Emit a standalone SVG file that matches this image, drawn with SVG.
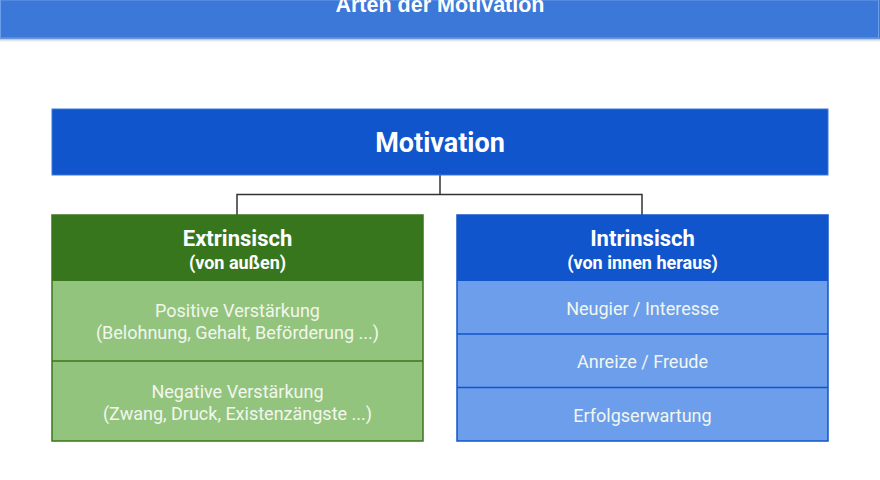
<svg xmlns="http://www.w3.org/2000/svg" width="880" height="480" viewBox="0 0 880 480">
<defs>
<linearGradient id="sh" x1="0" y1="0" x2="0" y2="1">
<stop offset="0" stop-color="#7a8ea8" stop-opacity="0.9"/>
<stop offset="1" stop-color="#ffffff" stop-opacity="0"/>
</linearGradient>
</defs>
<style>
.t{font-family:Roboto,"Liberation Sans",sans-serif;text-anchor:middle;fill:#ffffff}
.b{font-weight:bold}
.item{font-size:18px;fill:#f2f6ee}
.conn{fill:none;stroke:#333333;stroke-width:1.5}
</style>
<rect width="880" height="480" fill="#ffffff"/>
<g id="header">
<rect x="0" y="38" width="880" height="5" fill="url(#sh)"/>
<rect x="0" y="0" width="880" height="38.5" fill="#3c78d8"/>
<rect x="0.5" y="0" width="878" height="38" fill="none" stroke="#6d9eeb" stroke-width="1"/>
<text x="440" y="12" font-family="'Liberation Sans',Arial,sans-serif" font-size="21.5" font-weight="bold" text-anchor="middle" fill="#ffffff">Arten der Motivation</text>
</g>
<g id="connectors">
<path class="conn" d="M440 175 V194.5 M237 215 V194.5 H642 V215"/>
</g>
<g id="motivation">
<rect x="52" y="109" width="776" height="66" fill="#1155cc" stroke="#3c78d8" stroke-width="1"/>
<text class="t b" x="440" y="151.5" font-size="27">Motivation</text>
</g>
<g id="extrinsisch">
<rect x="52" y="215" width="371" height="226" fill="#93c47d" stroke="#38761d" stroke-width="1.5"/>
<rect x="52" y="215" width="371" height="66" fill="#38761d"/>
<line x1="52" y1="361" x2="423" y2="361" stroke="#38761d" stroke-width="1.5"/>
<text class="t b" x="237.5" y="246" font-size="22">Extrinsisch</text>
<text class="t b" x="237.5" y="268.5" font-size="18">(von außen)</text>
<text class="t item" x="237.5" y="316.5">Positive Verstärkung</text>
<text class="t item" x="237.5" y="338.5">(Belohnung, Gehalt, Beförderung ...)</text>
<text class="t item" x="237.5" y="397.5">Negative Verstärkung</text>
<text class="t item" x="237.5" y="419.5">(Zwang, Druck, Existenzängste ...)</text>
</g>
<g id="intrinsisch">
<rect x="457" y="215" width="371" height="226" fill="#6d9eeb" stroke="#1155cc" stroke-width="1.5"/>
<rect x="457" y="215" width="371" height="66" fill="#1155cc"/>
<line x1="457" y1="334" x2="828" y2="334" stroke="#1155cc" stroke-width="1.5"/>
<line x1="457" y1="387.5" x2="828" y2="387.5" stroke="#1155cc" stroke-width="1.5"/>
<text class="t b" x="642.5" y="246" font-size="22">Intrinsisch</text>
<text class="t b" x="642.5" y="268.5" font-size="18">(von innen heraus)</text>
<text class="t item" x="642.5" y="314.5">Neugier / Interesse</text>
<text class="t item" x="642.5" y="367.5">Anreize / Freude</text>
<text class="t item" x="642.5" y="421.5">Erfolgserwartung</text>
</g>
</svg>
